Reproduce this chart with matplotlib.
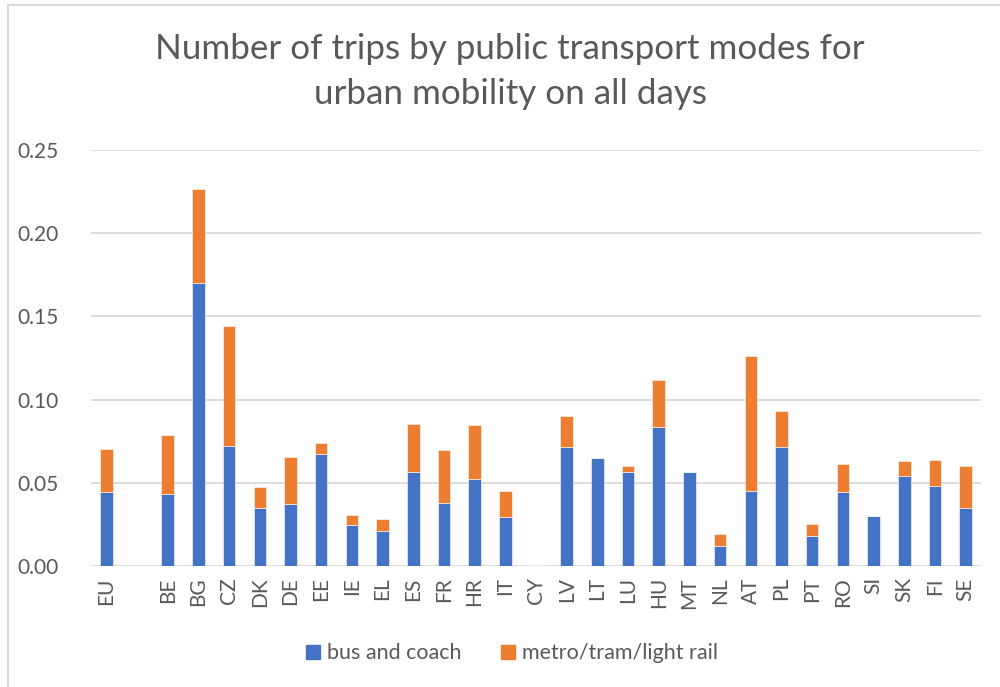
import numpy as np
import matplotlib.pyplot as plt
from matplotlib.lines import Line2D

countries = ['EU', '', 'BE', 'BG', 'CZ', 'DK', 'DE', 'EE', 'IE', 'EL', 'ES', 'FR',
             'HR', 'IT', 'CY', 'LV', 'LT', 'LU', 'HU', 'MT', 'NL', 'AT', 'PL', 'PT',
             'RO', 'SI', 'SK', 'FI', 'SE']
bus_coach = [0.0447, 0.0, 0.0433, 0.1700, 0.0724, 0.0349, 0.0371, 0.0672, 0.0249,
             0.0208, 0.0563, 0.0381, 0.0525, 0.0293, 0.0004, 0.0716, 0.0650, 0.0565,
             0.0838, 0.0565, 0.0122, 0.0451, 0.0718, 0.0180, 0.0445, 0.0303, 0.0541,
             0.0483, 0.0347]
metro_tram = [0.0255, 0.0, 0.0353, 0.0565, 0.0721, 0.0126, 0.0287, 0.0066, 0.0058,
              0.0077, 0.0293, 0.0317, 0.0323, 0.0156, 0.0, 0.0188, 0.0, 0.0038,
              0.0279, 0.0, 0.0072, 0.0810, 0.0216, 0.0075, 0.0166, 0.0, 0.0089,
              0.0157, 0.0256]

title = 'Number of trips by public transport modes for\nurban mobility on all days'
label_bus = 'bus and coach'
label_metro = 'metro/tram/light rail'

BLUE = '#4472C4'
ORANGE = '#ED7D31'
TEXT = '#595959'
GRID = '#D9D9D9'

plt.rcParams['font.family'] = ['Lato', 'DejaVu Sans']

fig = plt.figure(figsize=(10, 6.87), dpi=100)
ax = fig.add_axes([0.091, 0.176, 0.890, 0.6057])

x = np.arange(len(countries))
bus = np.array(bus_coach)
metro = np.array(metro_tram)
ax.bar(x, bus, width=0.41, color=BLUE, edgecolor='white', linewidth=0.4, zorder=3)
ax.bar(x, metro, width=0.41, bottom=bus, color=ORANGE, edgecolor='white',
       linewidth=0.4, zorder=3)

ax.set_xlim(-0.5, len(countries) - 0.5)
ax.set_ylim(0, 0.25)
ax.set_yticks(np.arange(0, 0.251, 0.05))
ax.set_yticklabels(['%.2f' % v for v in np.arange(0, 0.251, 0.05)],
                   fontsize=15, color=TEXT)
ax.set_xticks(x)
ax.set_xticklabels(countries, rotation=90, fontsize=15, color=TEXT)
ax.tick_params(axis='both', length=0)
ax.tick_params(axis='y', pad=23)
ax.tick_params(axis='x', pad=8)
ax.grid(True, axis='y', color=GRID, linewidth=1.3, zorder=0)
for s in ax.spines.values():
    s.set_visible(False)

fig.text(0.510, 0.952, title, ha='center', va='top', fontsize=25.2,
         color=TEXT, linespacing=1.5)

handles = [Line2D([], [], marker='s', linestyle='none', markersize=10, color=BLUE),
           Line2D([], [], marker='s', linestyle='none', markersize=10, color=ORANGE)]
fig.legend(handles, [label_bus, label_metro], loc='center', bbox_to_anchor=(0.509, 0.049),
           ncol=2, frameon=False, fontsize=15.5, labelcolor=TEXT, handletextpad=0.05,
           handlelength=1.2, columnspacing=1.6)

# outer chart border (left and top edges visible in the crop)
fig.add_artist(Line2D([0.008, 0.008], [0, 0.992], transform=fig.transFigure,
                      color=GRID, linewidth=1.5))
fig.add_artist(Line2D([0.008, 1.0], [0.992, 0.992], transform=fig.transFigure,
                      color=GRID, linewidth=1.5))

fig.savefig('out.png', dpi=100)
